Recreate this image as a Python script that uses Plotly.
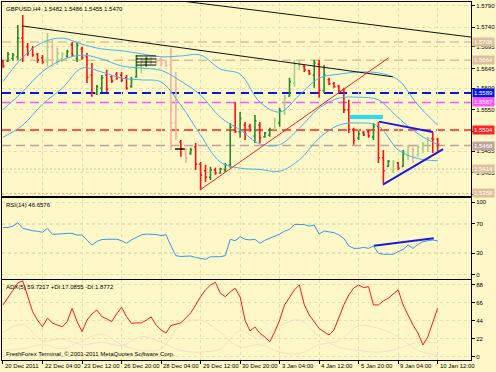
import plotly.graph_objects as go

# ---------------- data ----------------
bar_index = list(range(89))
open_ = [1.5662,1.5662,1.5668,1.5672,1.5715,1.5695,1.5690,1.5678,1.5670,1.5660,
         1.5695,1.5662,1.5668,1.5674,1.5700,1.5668,1.5690,1.5672,1.5630,1.5588,
         1.5600,1.5630,1.5626,1.5632,1.5630,1.5624,1.5604,1.5626,1.5650,1.5655,
         1.5660,1.5668,1.5666,1.5660,1.5655,1.5520,1.5476,1.5458,1.5450,1.5465,
         1.5425,1.5410,1.5395,1.5412,1.5405,1.5412,1.5424,1.5512,1.5500,1.5515,
         1.5512,1.5490,1.5515,1.5488,1.5492,1.5506,1.5520,1.5545,1.5582,1.5612,
         1.5652,1.5650,1.5640,1.5630,1.5655,1.5595,1.5620,1.5610,1.5604,1.5596,
         1.5550,1.5505,1.5485,1.5498,1.5500,1.5488,1.5512,1.5440,1.5420,1.5410,
         1.5428,1.5420,1.5445,1.5460,1.5445,1.5460,1.5468,1.5484,1.5482]
high = [1.5665,1.5683,1.5681,1.5745,1.5768,1.5704,1.5697,1.5681,1.5676,1.5727,
        1.5711,1.5693,1.5683,1.5688,1.5706,1.5704,1.5695,1.5681,1.5658,1.5607,
        1.5630,1.5642,1.5630,1.5637,1.5637,1.5630,1.5626,1.5676,1.5670,1.5672,
        1.5672,1.5670,1.5670,1.5665,1.5693,1.5637,1.5481,1.5463,1.5463,1.5474,
        1.5430,1.5424,1.5419,1.5417,1.5417,1.5428,1.5520,1.5568,1.5545,1.5522,
        1.5518,1.5538,1.5522,1.5499,1.5509,1.5532,1.5555,1.5584,1.5624,1.5665,
        1.5665,1.5653,1.5642,1.5665,1.5665,1.5653,1.5624,1.5614,1.5607,1.5601,
        1.5573,1.5509,1.5502,1.5502,1.5504,1.5520,1.5522,1.5458,1.5435,1.5435,
        1.5430,1.5458,1.5470,1.5465,1.5470,1.5476,1.5488,1.5499,1.5486]
low = [1.5647,1.5660,1.5663,1.5665,1.5660,1.5674,1.5672,1.5658,1.5656,1.5649,
       1.5649,1.5653,1.5660,1.5670,1.5672,1.5660,1.5665,1.5612,1.5580,1.5584,
       1.5591,1.5591,1.5612,1.5619,1.5614,1.5596,1.5601,1.5624,1.5635,1.5649,
       1.5653,1.5653,1.5649,1.5649,1.5458,1.5481,1.5442,1.5428,1.5447,1.5412,
       1.5366,1.5384,1.5389,1.5401,1.5403,1.5407,1.5417,1.5497,1.5486,1.5481,
       1.5500,1.5474,1.5474,1.5486,1.5488,1.5504,1.5511,1.5538,1.5580,1.5603,
       1.5642,1.5637,1.5630,1.5601,1.5578,1.5589,1.5607,1.5601,1.5589,1.5543,
       1.5497,1.5470,1.5481,1.5490,1.5486,1.5481,1.5428,1.5382,1.5419,1.5405,
       1.5412,1.5419,1.5435,1.5428,1.5442,1.5451,1.5453,1.5451,1.5455]
close = [1.5650,1.5678,1.5676,1.5715,1.5672,1.5680,1.5676,1.5665,1.5660,1.5695,
         1.5665,1.5680,1.5678,1.5684,1.5676,1.5698,1.5670,1.5625,1.5590,1.5603,
         1.5624,1.5598,1.5616,1.5622,1.5618,1.5600,1.5620,1.5668,1.5662,1.5668,
         1.5668,1.5660,1.5656,1.5652,1.5520,1.5490,1.5460,1.5440,1.5458,1.5425,
         1.5400,1.5395,1.5412,1.5405,1.5414,1.5424,1.5510,1.5500,1.5530,1.5495,
         1.5504,1.5525,1.5486,1.5497,1.5505,1.5526,1.5548,1.5578,1.5615,1.5655,
         1.5655,1.5642,1.5634,1.5658,1.5595,1.5630,1.5610,1.5603,1.5594,1.5550,
         1.5505,1.5480,1.5495,1.5493,1.5490,1.5512,1.5440,1.5410,1.5432,1.5430,
         1.5416,1.5450,1.5465,1.5440,1.5465,1.5472,1.5484,1.5482,1.5470]
pale_bars = [9,10,11,12,28,30,31,32,33,34,35,37,55,57,59,60,79,82,83,84,85,86]

bb_index = [0,4,8,12,16,20,24,28,32,36,40,44,48,52,56,60,64,68,72,76,80,84,88]
bb_upper = [1.5615,1.5671,1.5705,1.5715,1.5701,1.5690,1.5686,1.5679,1.5672,1.5674,
            1.5676,1.5644,1.5632,1.5568,1.5545,1.5584,1.5623,1.5632,1.5637,1.5635,
            1.5619,1.5561,1.5515]
bb_middle = [1.5551,1.5592,1.5638,1.5665,1.5676,1.5667,1.5651,1.5646,1.5641,1.5616,
             1.5584,1.5533,1.5504,1.5472,1.5470,1.5508,1.5554,1.5577,1.5579,1.5573,
             1.5532,1.5495,1.5470]
bb_lower = [1.5487,1.5515,1.5563,1.5600,1.5646,1.5637,1.5623,1.5619,1.5614,1.5561,
            1.5492,1.5430,1.5416,1.5413,1.5409,1.5435,1.5485,1.5515,1.5520,1.5513,
            1.5458,1.5438,1.5433]

rsi = [65,65,67,71.5,64,62,60.5,60,58.4,64,55.7,56,57,57,57,54.8,54.8,48,41,46,
       48.5,48.9,49,49,47,43.4,48,51.5,55,56,56.2,55.5,54,55,40,26.5,25.3,25.8,26,24,
       22.5,21.5,25,25,25,26.5,48.9,47,52.5,48.9,48,48.9,43.4,47.5,50,52.5,56,60,62.5,69.4,
       69.4,69,67,68.5,56.2,60.3,59,58,54.8,50,40,36.5,36.5,37.9,36.5,39.7,29.7,28.4,28.4,28.4,
       32,35,41,36.5,42,45.5,47,48,46.66]
adx = [63.6,73,82,90.5,93,74.6,55.4,45,37,47.3,41.6,39,37,43.2,59.5,43.2,31,45,52.6,57.5,
       49.3,46.5,43.2,52.6,60.8,49.3,41.2,41.6,41.6,45,49,39,33,29.3,38.5,40,41.6,47.7,53.8,63.6,
       73.7,82,88,91.3,78,73.7,79.5,84,73.3,45,31.8,36.7,29,24.5,18.7,30.6,45,63.6,73.3,82,
       88,63.6,51.3,42.8,34.8,30.6,26.9,33,47.7,63.6,75.8,84.4,88,84.7,85.9,63.6,63.6,68.5,71.8,77,
       82,63.6,51.3,39,29.3,14.7,24.5,42.8,59.72]
di_index = [0,4,8,12,16,20,24,28,32,36,40,44,48,52,56,60,64,68,72,76,80,84,88]
plus_di = [30,40,20,22,15,18,14,25,18,8,6,10,32,22,38,45,25,12,8,6,10,18,17.09]
minus_di = [8,10,15,10,20,28,15,8,10,40,45,30,12,15,6,4,15,20,38,35,25,8,1.88]

time_tick_index = [0,8,16,24,32,40,48,56,64,72,80,88]
time_tick_text = ["20 Dec 2011","22 Dec 04:00","23 Dec 12:00","26 Dec 20:00","28 Dec 04:00",
                  "29 Dec 12:00","30 Dec 20:00","3 Jan 04:00","4 Jan 12:00","5 Jan 20:00",
                  "9 Jan 04:00","10 Jan 12:00"]
price_tick_vals = [1.5790,1.5740,1.5695,1.5645,1.5600,1.5550,1.5500,1.5455,1.5405,1.5355]
price_tick_text = ["1.5790","1.5740","1.5695","1.5645","1.5600","1.5550","","1.5455","1.5405",""]
rsi_ticks = [100,70,30,0]
adx_ticks = [88,66,44,22,0]

level_prices = [1.5706,1.5664,1.5589,1.5567,1.5504,1.5468,1.5414,1.5358]
level_text = ["1.5706","1.5664","1.5589","1.5567","1.5504","1.5468","1.5414","1.5358"]
level_colors = ["#DCC09A","#DCC09A","#0018E8","#FF55FF","#FF2222","#BFA0A0","#DCC09A","#DCC09A"]
level_dash = ["9px,5px","9px,5px","9px,5px","9px,5px","9px,5px","9px,5px","2px,2px","2px,2px"]
level_width = [1.5,1.5,2,1.5,1.5,1.5,1,1]

trend_black1_x = [3.85, 78.9]
trend_black1_y = [1.5743, 1.5626]
trend_black2_x = [30, 95]
trend_black2_y = [1.5809, 1.5717]
trend_red_x = [39.9, 78.1]
trend_red_y = [1.5366, 1.5670]
tri_upper_x = [76.1, 87.0]
tri_upper_y = [1.5523, 1.5499]
tri_lower_x = [76.9, 89.1]
tri_lower_y = [1.5378, 1.5460]
cyan_box_x = [70.2, 76.9]
cyan_box_y = [1.5529, 1.5538]
box_lines_x = [27, 31]
box_lines_y = [1.5674, 1.5667, 1.5660, 1.5653]
dash_black_x = [34.8, 36.8]
dash_black_y = [1.5460, 1.5460]
rsi_trend_x = [75.1, 87.2]
rsi_trend_y = [40.1, 50.3]

BG = "#FEF8C8"
GREEN = "#238C23"
RED = "#FF1010"
FONT = "Liberation Sans"
FS = 6

fig = go.Figure()

vivid = [i for i in bar_index if i not in pale_bars]
def pick(arr, idx):
    return [arr[i] for i in idx]

for arr in (bb_upper, bb_middle, bb_lower):
    fig.add_trace(go.Scatter(x=bb_index, y=arr, mode="lines", line=dict(color="#3DB8EE", width=1, shape="spline"),
                             xaxis="x", yaxis="y", hoverinfo="skip"))

fig.add_trace(go.Ohlc(x=pick(bar_index, pale_bars), open=pick(open_, pale_bars), high=pick(high, pale_bars),
                      low=pick(low, pale_bars), close=pick(close, pale_bars),
                      increasing=dict(line=dict(color="#A6D08A", width=1.6)),
                      decreasing=dict(line=dict(color="#F4B0A0", width=1.6)),
                      tickwidth=0.3, xaxis="x", yaxis="y", hoverinfo="skip"))
fig.add_trace(go.Ohlc(x=pick(bar_index, vivid), open=pick(open_, vivid), high=pick(high, vivid),
                      low=pick(low, vivid), close=pick(close, vivid),
                      increasing=dict(line=dict(color=GREEN, width=1.6)),
                      decreasing=dict(line=dict(color=RED, width=1.6)),
                      tickwidth=0.3, xaxis="x", yaxis="y", hoverinfo="skip"))

fig.add_trace(go.Scatter(x=trend_black1_x, y=trend_black1_y, mode="lines", line=dict(color="#111111", width=1), xaxis="x", yaxis="y"))
fig.add_trace(go.Scatter(x=trend_black2_x, y=trend_black2_y, mode="lines", line=dict(color="#111111", width=1), xaxis="x", yaxis="y"))
fig.add_trace(go.Scatter(x=trend_red_x, y=trend_red_y, mode="lines", line=dict(color="#FF2020", width=1), xaxis="x", yaxis="y"))
fig.add_trace(go.Scatter(x=tri_upper_x, y=tri_upper_y, mode="lines", line=dict(color="#1A1AE0", width=2), xaxis="x", yaxis="y"))
fig.add_trace(go.Scatter(x=tri_lower_x, y=tri_lower_y, mode="lines", line=dict(color="#1A1AE0", width=2), xaxis="x", yaxis="y"))
for yv in box_lines_y:
    fig.add_trace(go.Scatter(x=box_lines_x, y=[yv, yv], mode="lines", line=dict(color="#111111", width=1), xaxis="x", yaxis="y"))
fig.add_trace(go.Scatter(x=dash_black_x, y=dash_black_y, mode="lines", line=dict(color="#111111", width=1.5), xaxis="x", yaxis="y"))

# RSI
fig.add_trace(go.Scatter(x=bar_index, y=rsi, mode="lines", line=dict(color="#3399EE", width=1), xaxis="x2", yaxis="y2"))
fig.add_trace(go.Scatter(x=rsi_trend_x, y=rsi_trend_y, mode="lines", line=dict(color="#1A1AE0", width=2), xaxis="x2", yaxis="y2"))
# ADX
fig.add_trace(go.Scatter(x=di_index, y=plus_di, mode="lines", line=dict(color="#F7DCCB", width=1, shape="spline"), xaxis="x3", yaxis="y3"))
fig.add_trace(go.Scatter(x=di_index, y=minus_di, mode="lines", line=dict(color="#F2E2C4", width=1, shape="spline"), xaxis="x3", yaxis="y3"))
fig.add_trace(go.Scatter(x=bar_index, y=adx, mode="lines", line=dict(color="#FF1A1A", width=1), xaxis="x3", yaxis="y3"))

shapes = []
for p, c, d, w in zip(level_prices, level_colors, level_dash, level_width):
    shapes.append(dict(type="line", xref="x domain", x0=0, x1=1, yref="y", y0=p, y1=p,
                       line=dict(color=c, width=w, dash=d), layer="below"))
shapes.append(dict(type="rect", xref="x", yref="y", x0=cyan_box_x[0], x1=cyan_box_x[1],
                   y0=cyan_box_y[0], y1=cyan_box_y[1], fillcolor="#22E0EE", line=dict(width=0)))
for lv in (70, 30):
    shapes.append(dict(type="line", xref="x2 domain", x0=0, x1=1, yref="y2", y0=lv, y1=lv,
                       line=dict(color="#C8C0A8", width=1, dash="3px,3px"), layer="below"))

annotations = []
for p, t, c in zip(level_prices, level_text, level_colors):
    annotations.append(dict(xref="paper", x=1, xanchor="left", xshift=1, yref="y", y=p,
                            text=t, showarrow=False, bgcolor=c, borderpad=1,
                            font=dict(family=FONT, size=FS, color="white")))
for xi, t in zip(time_tick_index, time_tick_text):
    annotations.append(dict(xref="x3", x=xi, xanchor="left", xshift=0, yref="paper", y=0, yanchor="top",
                            yshift=-1, text=t, showarrow=False, font=dict(family=FONT, size=FS, color="#000000")))
annotations.append(dict(xref="paper", x=0, xanchor="left", xshift=2, yref="y domain", y=1, yanchor="top", yshift=-2,
                        text="GBPUSD,H4  1.5482 1.5486 1.5455 1.5470", showarrow=False,
                        font=dict(family=FONT, size=FS, color="#000000")))
annotations.append(dict(xref="paper", x=0, xanchor="left", xshift=2, yref="y2 domain", y=1, yanchor="top", yshift=-2,
                        text="RSI(14) 46.6576", showarrow=False, font=dict(family=FONT, size=FS, color="#000000")))
annotations.append(dict(xref="paper", x=0, xanchor="left", xshift=2, yref="y3 domain", y=1, yanchor="top", yshift=-2,
                        text="ADX(5) 59.7217 +DI:17.0855 -DI:1.8772", showarrow=False,
                        font=dict(family=FONT, size=FS, color="#000000")))
annotations.append(dict(xref="paper", x=0, xanchor="left", xshift=2, yref="y3 domain", y=0, yanchor="bottom", yshift=1,
                        text="FreshForex Terminal, © 2001-2011 MetaQuotes Software Corp.", showarrow=False,
                        font=dict(family=FONT, size=FS, color="#000000")))

xcommon = dict(range=[-0.2, 94.74], showgrid=True, gridcolor="#E8DFB0", griddash="dot", gridwidth=1,
               tickvals=time_tick_index, showticklabels=False, zeroline=False, automargin=False,
               showline=True, linecolor="#000000", linewidth=1, mirror=True, fixedrange=True)
ycommon = dict(side="right", showgrid=True, gridcolor="#E8DFB0", griddash="dot", zeroline=False, automargin=False,
               showline=True, linecolor="#000000", linewidth=1, mirror=True, ticks="outside", ticklen=3,
               tickcolor="#000000", tickfont=dict(family=FONT, size=FS, color="#000000"), fixedrange=True)

fig.update_layout(
    width=496, height=372, margin=dict(l=2, r=25, t=2, b=12, autoexpand=False),
    paper_bgcolor=BG, plot_bgcolor=BG, showlegend=False,
    xaxis=dict(**xcommon, anchor="y", rangeslider=dict(visible=False)),
    xaxis2=dict(**xcommon, anchor="y2", matches="x"),
    xaxis3=dict(**{**xcommon, "ticks": "outside", "ticklen": 3, "tickcolor": "#000000"}, anchor="y3", matches="x"),
    yaxis=dict(**ycommon, domain=[0.4581, 1.0], range=[1.5352, 1.5798], anchor="x",
               tickvals=price_tick_vals, ticktext=price_tick_text),
    yaxis2=dict(**ycommon, domain=[0.2263, 0.4525], range=[-5.5, 105.5], anchor="x2", tickvals=rsi_ticks),
    yaxis3=dict(**ycommon, domain=[0.0, 0.2235], range=[-3.7, 94.1], anchor="x3", tickvals=adx_ticks),
    shapes=shapes, annotations=annotations,
)

fig.write_html("out.html", config={"displayModeBar": False},
               post_script="document.body.style.margin='0';document.body.style.background='" + BG + "';")
